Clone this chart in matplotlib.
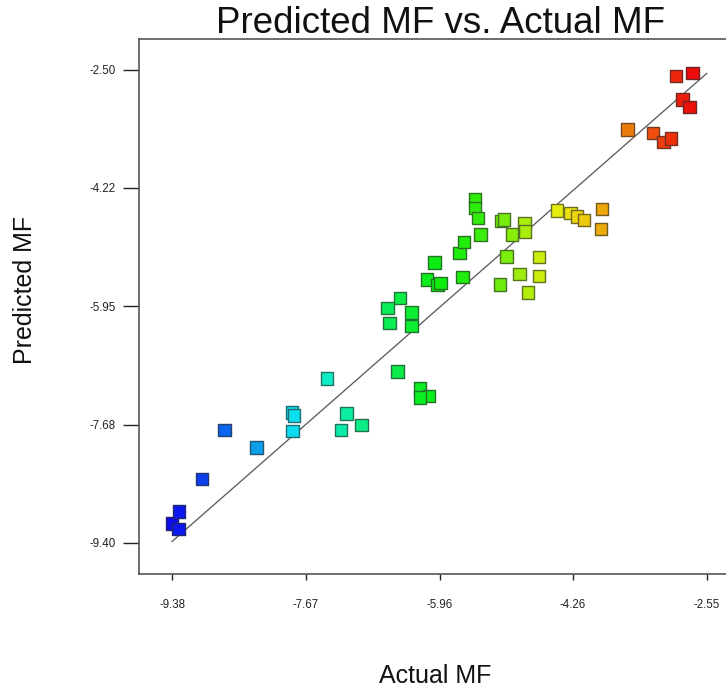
import colorsys
import numpy as np
import matplotlib
matplotlib.use("Agg")
import matplotlib.pyplot as plt

plt.rcParams['font.family'] = ['Liberation Sans', 'DejaVu Sans']

# actual vs predicted values
actual = [-9.38, -9.30, -9.29, -9.00, -8.71, -8.30, -7.85, -7.82, -7.84, -7.40,
          -7.15, -7.22, -6.96, -6.50, -6.21, -6.10, -6.21, -6.47, -6.63, -6.32,
          -6.60, -6.32, -6.03, -6.12, -5.99, -5.95, -5.67, -5.71, -5.65, -5.51,
          -5.51, -5.47, -5.44, -5.18, -5.14, -5.04, -4.88, -4.87, -5.11, -4.94,
          -5.19, -4.83, -4.69, -4.69, -4.46, -4.29, -4.21, -4.12, -3.89, -3.90,
          -3.56, -3.24, -3.10, -3.01, -2.94, -2.73, -2.86, -2.77]
predicted = [-9.12, -9.20, -8.94, -8.47, -7.75, -8.01, -7.50, -7.54, -7.77, -7.00,
             -7.51, -7.75, -7.68, -6.90, -7.15, -7.26, -7.28, -5.83, -5.97, -6.04,
             -6.19, -6.24, -5.31, -5.56, -5.64, -5.61, -5.52, -5.17, -5.01, -4.38,
             -4.51, -4.66, -4.90, -4.70, -4.68, -4.90, -4.73, -4.86, -5.22, -5.48,
             -5.63, -5.75, -5.23, -5.51, -4.55, -4.59, -4.64, -4.69, -4.53, -4.82,
             -3.37, -3.42, -3.55, -3.50, -2.59, -2.54, -2.93, -3.04]

x_ticks = [-9.38, -7.67, -5.96, -4.26, -2.55]
x_ticklabels = ['-9.38', '-7.67', '-5.96', '-4.26', '-2.55']
y_ticks = [-2.50, -4.22, -5.95, -7.68, -9.40]
y_ticklabels = ['-2.50', '-4.22', '-5.95', '-7.68', '-9.40']

# rainbow colouring by actual value (blue -> cyan -> green -> yellow -> red)
hue_pos = [0.0, 0.23, 0.48, 0.58, 0.70, 0.76, 0.82, 0.88, 0.93, 1.0]
hue_deg = [240, 185, 125, 112, 70, 58, 43, 28, 16, 0]
lo, hi = min(actual), max(actual)
faces, edges = [], []
for a in actual:
    t = (a - lo) / (hi - lo)
    h = np.interp(t, hue_pos, hue_deg)
    r, g, b = colorsys.hsv_to_rgb(h / 360, 0.95, 0.93)
    faces.append((r, g, b))
    edges.append((r * 0.35 + 0.12, g * 0.35 + 0.12, b * 0.35 + 0.12))

fig = plt.figure(figsize=(7.26, 6.88), dpi=100)
ax = fig.add_axes([0.1915, 0.1657, 0.8264, 0.7776])

ax.plot([x_ticks[0], x_ticks[-1]], [x_ticks[0], x_ticks[-1]],
        color='#555555', lw=0.9, zorder=2)
ax.scatter(actual, predicted, marker='s', s=80, c=faces, edgecolors=edges,
           linewidths=1.0, zorder=3)

ax.set_xlim(-9.802, -2.138)
ax.set_ylim(-9.855, -2.048)

ax.set_xticks(x_ticks)
ax.set_xticklabels(x_ticklabels)
ax.set_yticks(y_ticks)
ax.set_yticklabels(y_ticklabels)
ax.tick_params(axis='x', direction='out', length=4.3, width=1, pad=14,
               labelsize=8.3, colors='#222222')
ax.tick_params(axis='y', direction='out', length=11.5, width=1, pad=5,
               labelsize=8.3, colors='#222222')
for s in ax.spines.values():
    s.set_color('#555555')
    s.set_linewidth(1.2)

fig.text(441 / 726, 1 - 33 / 688, 'Predicted MF vs. Actual MF', ha='center',
         va='baseline', fontsize=26.5, color='#111111')
fig.text(435 / 726, 1 - 676 / 688, 'Actual MF', ha='center', va='center',
         fontsize=18, color='#111111')
fig.text(25 / 726, 1 - 290 / 688, 'Predicted MF', ha='center', va='center',
         rotation=90, fontsize=18, color='#111111')

fig.savefig('out.png', dpi=100)
